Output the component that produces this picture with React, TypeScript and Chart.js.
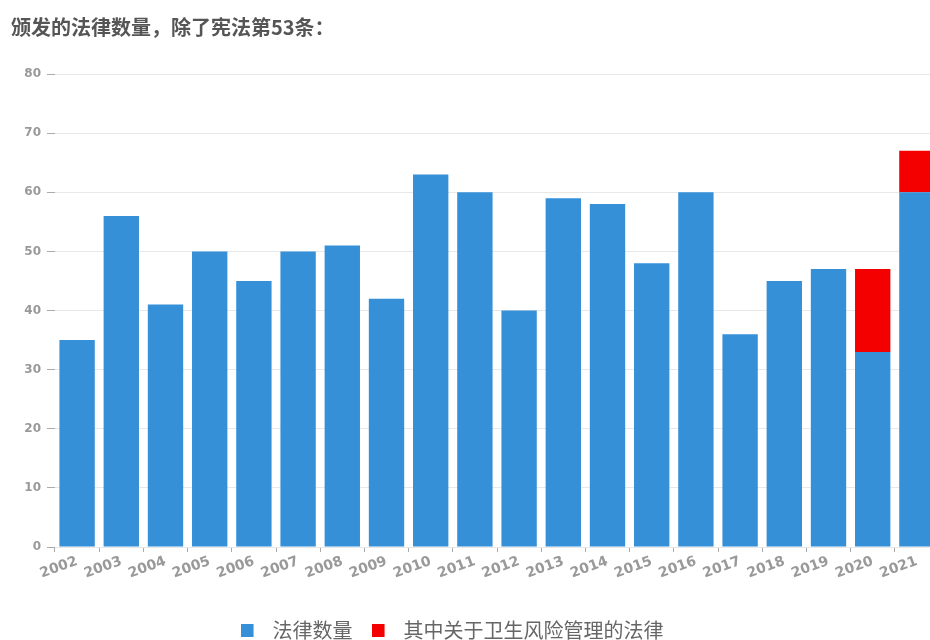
import React, { useEffect, useRef } from "react";
import { Chart, registerables } from "chart.js";

Chart.register(...registerables);

const titleText = "颁发的法律数量，除了宪法第53条：";
const years = [
  "2002", "2003", "2004", "2005", "2006", "2007", "2008", "2009", "2010", "2011",
  "2012", "2013", "2014", "2015", "2016", "2017", "2018", "2019", "2020", "2021",
];
const lawCounts = [35, 56, 41, 50, 45, 50, 51, 42, 63, 60, 40, 59, 58, 48, 60, 36, 45, 47, 33, 60];
const healthRiskLaws = [0, 0, 0, 0, 0, 0, 0, 0, 0, 0, 0, 0, 0, 0, 0, 0, 0, 0, 14, 7];
const seriesLabels = ["法律数量", "其中关于卫生风险管理的法律"];
const yMin = 0;
const yMax = 80;
const yStep = 10;

const BLUE = "#3590d8";
const RED = "#f50000";

function legendSwatch(color: string): HTMLCanvasElement {
  const c = document.createElement("canvas");
  c.width = 22;
  c.height = 13;
  const ctx = c.getContext("2d");
  if (ctx) {
    ctx.fillStyle = color;
    ctx.fillRect(0, 0, 13, 13);
  }
  return c;
}

export default function App() {
  const ref = useRef<HTMLCanvasElement | null>(null);

  useEffect(() => {
    const canvas = ref.current;
    if (!canvas) return;
    const swatches = [legendSwatch(BLUE), legendSwatch(RED)];
    const chart = new Chart(canvas, {
      type: "bar",
      data: {
        labels: years,
        datasets: [
          {
            label: seriesLabels[0],
            data: lawCounts,
            backgroundColor: BLUE,
            borderWidth: 0,
            categoryPercentage: 1,
            barPercentage: 0.8,
          },
          {
            label: seriesLabels[1],
            data: healthRiskLaws,
            backgroundColor: RED,
            borderWidth: 0,
            categoryPercentage: 1,
            barPercentage: 0.8,
          },
        ],
      },
      options: {
        responsive: false,
        animation: false,
        devicePixelRatio: 1,
        layout: { padding: { top: 74, left: 0, right: 0, bottom: 0 } },
        plugins: {
          title: { display: false },
          tooltip: { enabled: false },
          legend: {
            display: true,
            position: "bottom",
            labels: {
              usePointStyle: true,
              pointStyleWidth: 22,
              boxHeight: 13,
              padding: 19,
              color: "#666",
              font: { family: "'Noto Sans CJK SC', sans-serif", size: 20 },
              generateLabels: (ch: any) => {
                const items = (Chart.defaults.plugins.legend.labels as any).generateLabels(ch);
                return items.map((it: any, i: number) => ({ ...it, pointStyle: swatches[i] }));
              },
            },
          },
        },
        scales: {
          x: {
            stacked: true,
            border: { display: false },
            grid: {
              display: true,
              offset: true,
              drawOnChartArea: false,
              drawTicks: true,
              tickLength: 5,
              tickColor: "#aaa",
            },
            ticks: {
              autoSkip: false,
              minRotation: 20,
              maxRotation: 20,
              padding: 1,
              color: "#999",
              font: { family: "'DejaVu Sans', sans-serif", size: 14, weight: "bold" },
            },
            afterFit: (scale: any) => {
              scale.height = 54;
            },
          },
          y: {
            stacked: true,
            min: yMin,
            max: yMax,
            border: { display: false },
            grid: {
              color: "#e8e8e8",
              tickColor: "#aaa",
              tickLength: 8,
              lineWidth: 1,
            },
            ticks: {
              stepSize: yStep,
              padding: 6,
              color: "#999",
              font: { family: "'DejaVu Sans', sans-serif", size: 12, weight: "bold" },
            },
            afterFit: (scale: any) => {
              scale.width = 90;
            },
          },
        },
      },
    });
    return () => chart.destroy();
  }, []);

  return (
    <div
      style={{
        position: "fixed",
        left: 0,
        top: 0,
        width: 930,
        height: 640,
        overflow: "hidden",
        background: "#fff",
      }}
    >
      <canvas
        ref={ref}
        width={974}
        height={650}
        style={{ position: "absolute", left: -35, top: 0, width: 974, height: 650 }}
      />
      <div
        style={{
          position: "absolute",
          left: 11,
          top: 14,
          fontFamily: "'Noto Sans CJK SC', sans-serif",
          fontWeight: "bold",
          fontSize: 20,
          lineHeight: "26px",
          color: "#555",
          whiteSpace: "nowrap",
        }}
      >
        {titleText}
      </div>
    </div>
  );
}
